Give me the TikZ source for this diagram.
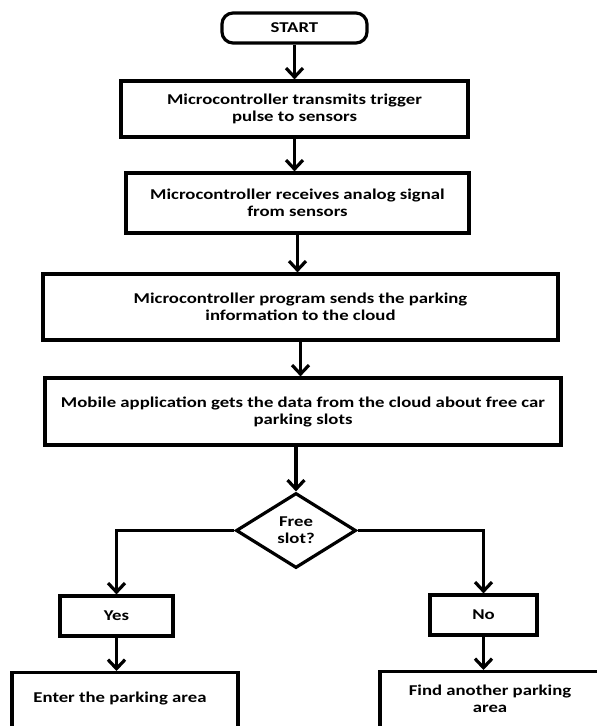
\documentclass[tikz,border=0pt]{standalone}
\usepackage{fontspec}
\setmainfont{Carlito}[FakeStretch=1.25]
\usetikzlibrary{shapes.geometric,arrows.meta}
\begin{document}
\begin{tikzpicture}[x=1pt,y=-1pt,
  box/.style={draw,line width=3.2pt,inner sep=0pt,align=center,
    font=\bfseries\fontsize{15}{17}\selectfont},
  txt/.style={inner sep=0pt,align=center,font=\bfseries\fontsize{15}{17}\selectfont},
  arr/.style={line width=3.2pt,-{Straight Barb[length=9pt,width=17pt]}}]
\useasboundingbox (0,0) rectangle (597,726);
\clip (0,0) rectangle (597,726);
\fill[white] (0,0) rectangle (597,726);

\node[box, rounded corners=11pt, minimum width=145pt, minimum height=30pt] (start) at (294.5,28) {START};
\node[box, minimum width=347pt, minimum height=56pt] (b1) at (294.5,109) {Microcontroller transmits trigger\\pulse to sensors};
\node[box, minimum width=343pt, minimum height=60pt] (b2) at (297.5,203) {Microcontroller receives analog signal\\from sensors};
\node[box, minimum width=515pt, minimum height=66pt] (b3) at (300.5,307) {Microcontroller program sends the parking\\information to the cloud};
\node[box, minimum width=516pt, minimum height=67pt] (b4) at (303,411.5) {Mobile application gets the data from the cloud about free car\\parking slots};
\node[box, diamond, aspect=1.6, minimum width=120pt, minimum height=75pt] (dec) at (296,530.5) {Free\\slot?};
\node[box, minimum width=113pt, minimum height=40pt] (yes) at (116.5,616) {Yes};
\node[box, minimum width=107pt, minimum height=40pt] (no) at (483.5,615) {No};
\node[box, anchor=north, minimum width=226pt, minimum height=90pt] (enter) at (125,671) {};
\node[txt] (entertxt) at (120,698) {Enter the parking area};
\node[box, anchor=north, minimum width=222pt, minimum height=90pt] (find) at (491,670) {};
\node[txt] (findtxt) at (490,699) {Find another parking\\area};

\draw[arr] (start.south) -- (start.south |- b1.north);
\draw[arr] (b1.south) -- (b1.south |- b2.north);
\draw[arr] (b2.south) -- (b2.south |- b3.north);
\draw[arr] (b3.south) -- (b3.south |- b4.north);
\draw[arr] (dec.north |- b4.south) -- (dec.north);
\draw[arr] (dec.west) -| (yes.north);
\draw[arr] (dec.east) -| (no.north);
\draw[arr] (yes.south) -- (yes.south |- enter.north);
\draw[arr] (no.south) -- (no.south |- find.north);
\end{tikzpicture}
\end{document}
